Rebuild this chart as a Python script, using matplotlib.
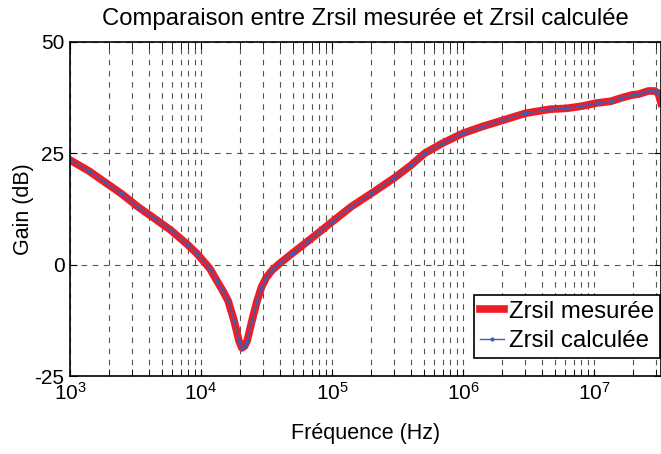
import matplotlib.pyplot as plt
from matplotlib.ticker import LogLocator, NullFormatter

# valeurs (Hz, dB)
freq = [1e3, 1.4e3, 1.85e3, 2.45e3, 3.3e3, 4.4e3, 5.9e3, 7.9e3, 9.3e3, 1.17e4,
        1.32e4, 1.45e4, 1.61e4, 1.79e4, 1.95e4, 2.05e4, 2.15e4, 2.25e4, 2.45e4,
        2.67e4, 2.9e4, 3.15e4, 3.5e4, 4e4, 5e4, 6.5e4, 8e4, 1e5, 1.4e5, 2e5, 3e5, 4e5,
        5.1e5, 7e5, 1e6, 1.4e6, 2e6, 3e6, 4.6e6, 6.2e6, 8.1e6, 1.05e7, 1.35e7,
        1.6e7, 1.95e7, 2.2e7, 2.6e7, 2.9e7, 3.1e7, 3.25e7]
gain_mes = [23.5, 21, 18.5, 16, 13, 10.4, 7.7, 4.5, 2.5, -0.9,
            -3.6, -5.6, -8.1, -12.6, -17.1, -18.7, -18.3, -17.1, -12.6,
            -8.3, -5.0, -2.9, -1.2, 0.3, 2.6, 5.2, 7.3, 9.6, 13, 16, 19.5, 22.3,
            25, 27.3, 29.5, 31, 32.4, 34, 34.9, 35.1, 35.6, 36.3, 36.7,
            37.4, 38.1, 38.3, 39, 39, 38.5, 36.3]
gain_calc = list(gain_mes)

plt.rcParams['font.family'] = ['Liberation Sans', 'DejaVu Sans']
plt.rcParams['axes.unicode_minus'] = False
plt.rcParams['mathtext.fontset'] = 'custom'
plt.rcParams['mathtext.rm'] = 'Liberation Sans'
plt.rcParams['mathtext.it'] = 'Liberation Sans'

fig = plt.figure(figsize=(6.61, 4.54), dpi=100)
ax = fig.add_axes([0.1059, 0.1718, 0.8941, 0.7357])

ax.semilogx(freq, gain_mes, color='#ee1c24', linewidth=5.5, label='Zrsil mesurée')
ax.semilogx(freq, gain_calc, color='#3a5fb5', linewidth=1, marker='.', markersize=4,
            label='Zrsil calculée')

ax.set_xlim(1e3, 3.25e7)
ax.set_ylim(-25, 50)
ax.set_yticks([-25, 0, 25, 50])
ax.xaxis.set_minor_locator(LogLocator(base=10, subs=range(2, 10)))
ax.xaxis.set_minor_formatter(NullFormatter())
ax.grid(True, which='major', linestyle=(0, (5, 5)), color='#555555', linewidth=0.8)
ax.grid(True, which='minor', axis='x', linestyle=(0, (5, 5)), color='#555555', linewidth=0.8)
ax.tick_params(which='both', direction='in', top=True, right=True, labelsize=15,
               length=5, pad=4)
for s in ax.spines.values():
    s.set_linewidth(1.2)

ax.set_title('Comparaison entre Zrsil mesurée et Zrsil calculée', fontsize=17.2, pad=12)
ax.set_xlabel('Fréquence (Hz)', fontsize=15.5, labelpad=14)
ax.set_ylabel('Gain (dB)', fontsize=15.5, labelpad=0)

leg = ax.legend(loc='lower right', bbox_to_anchor=(0.998, 0.054), fontsize=17.3,
                fancybox=False, edgecolor='black', borderaxespad=0,
                handlelength=1.0, handletextpad=0.2, borderpad=0.25,
                labelspacing=0.3, framealpha=1)
leg.get_frame().set_linewidth(1.2)

fig.savefig('out.png', dpi=100)
